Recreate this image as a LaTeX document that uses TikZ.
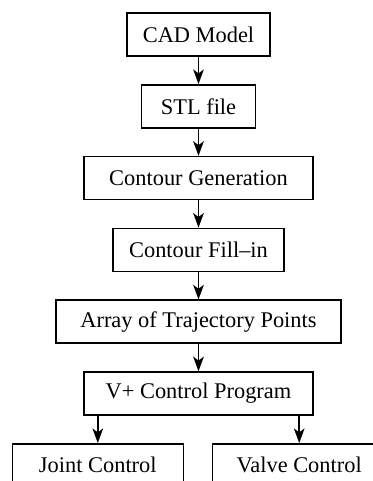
\documentclass[tikz,border=0pt]{standalone}
\usepackage{fontspec}
\setmainfont{Liberation Serif}
\usetikzlibrary{arrows.meta, positioning}

\begin{document}
\begin{tikzpicture}[
        x=0.75pt, y=-0.75pt,
        node distance=20.5pt,
        box/.style={rectangle, draw, line width=1.1pt, inner sep=0pt,
                    minimum height=32.25pt, font=\fontsize{16.8}{20}\selectfont},
        arr/.style={-{Stealth[length=11pt, width=8pt, inset=3pt]}, line width=1.1pt},
    ]
        \useasboundingbox (0,0) rectangle (373,481);
        \node[box, minimum width=107.25pt] (cad) at (198.5,34.5) {CAD Model};
        \node[box, minimum width=85.5pt,   below=of cad]   (stl)   {STL file};
        \node[box, minimum width=171.75pt, below=of stl]   (gen)   {Contour Generation};
        \node[box, minimum width=128.25pt, below=of gen]   (fill)  {Contour Fill--in};
        \node[box, minimum width=213.75pt, below=of fill]  (array) {Array of Trajectory Points};
        \node[box, minimum width=171.75pt, below=of array] (vplus) {V+ Control Program};
        \node[box, minimum width=128.25pt, below=of vplus.south west, xshift=10.9pt]  (joint) {Joint Control};
        \node[box, minimum width=129.75pt, below=of vplus.south east, xshift=-10.9pt] (valve) {Valve Control};
        \draw[arr] (cad) -- (stl);
        \draw[arr] (stl) -- (gen);
        \draw[arr] (gen) -- (fill);
        \draw[arr] (fill) -- (array);
        \draw[arr] (array) -- (vplus);
        \draw[arr] (joint.north |- vplus.south) -- (joint);
        \draw[arr] (valve.north |- vplus.south) -- (valve);
    \end{tikzpicture}
\end{document}
